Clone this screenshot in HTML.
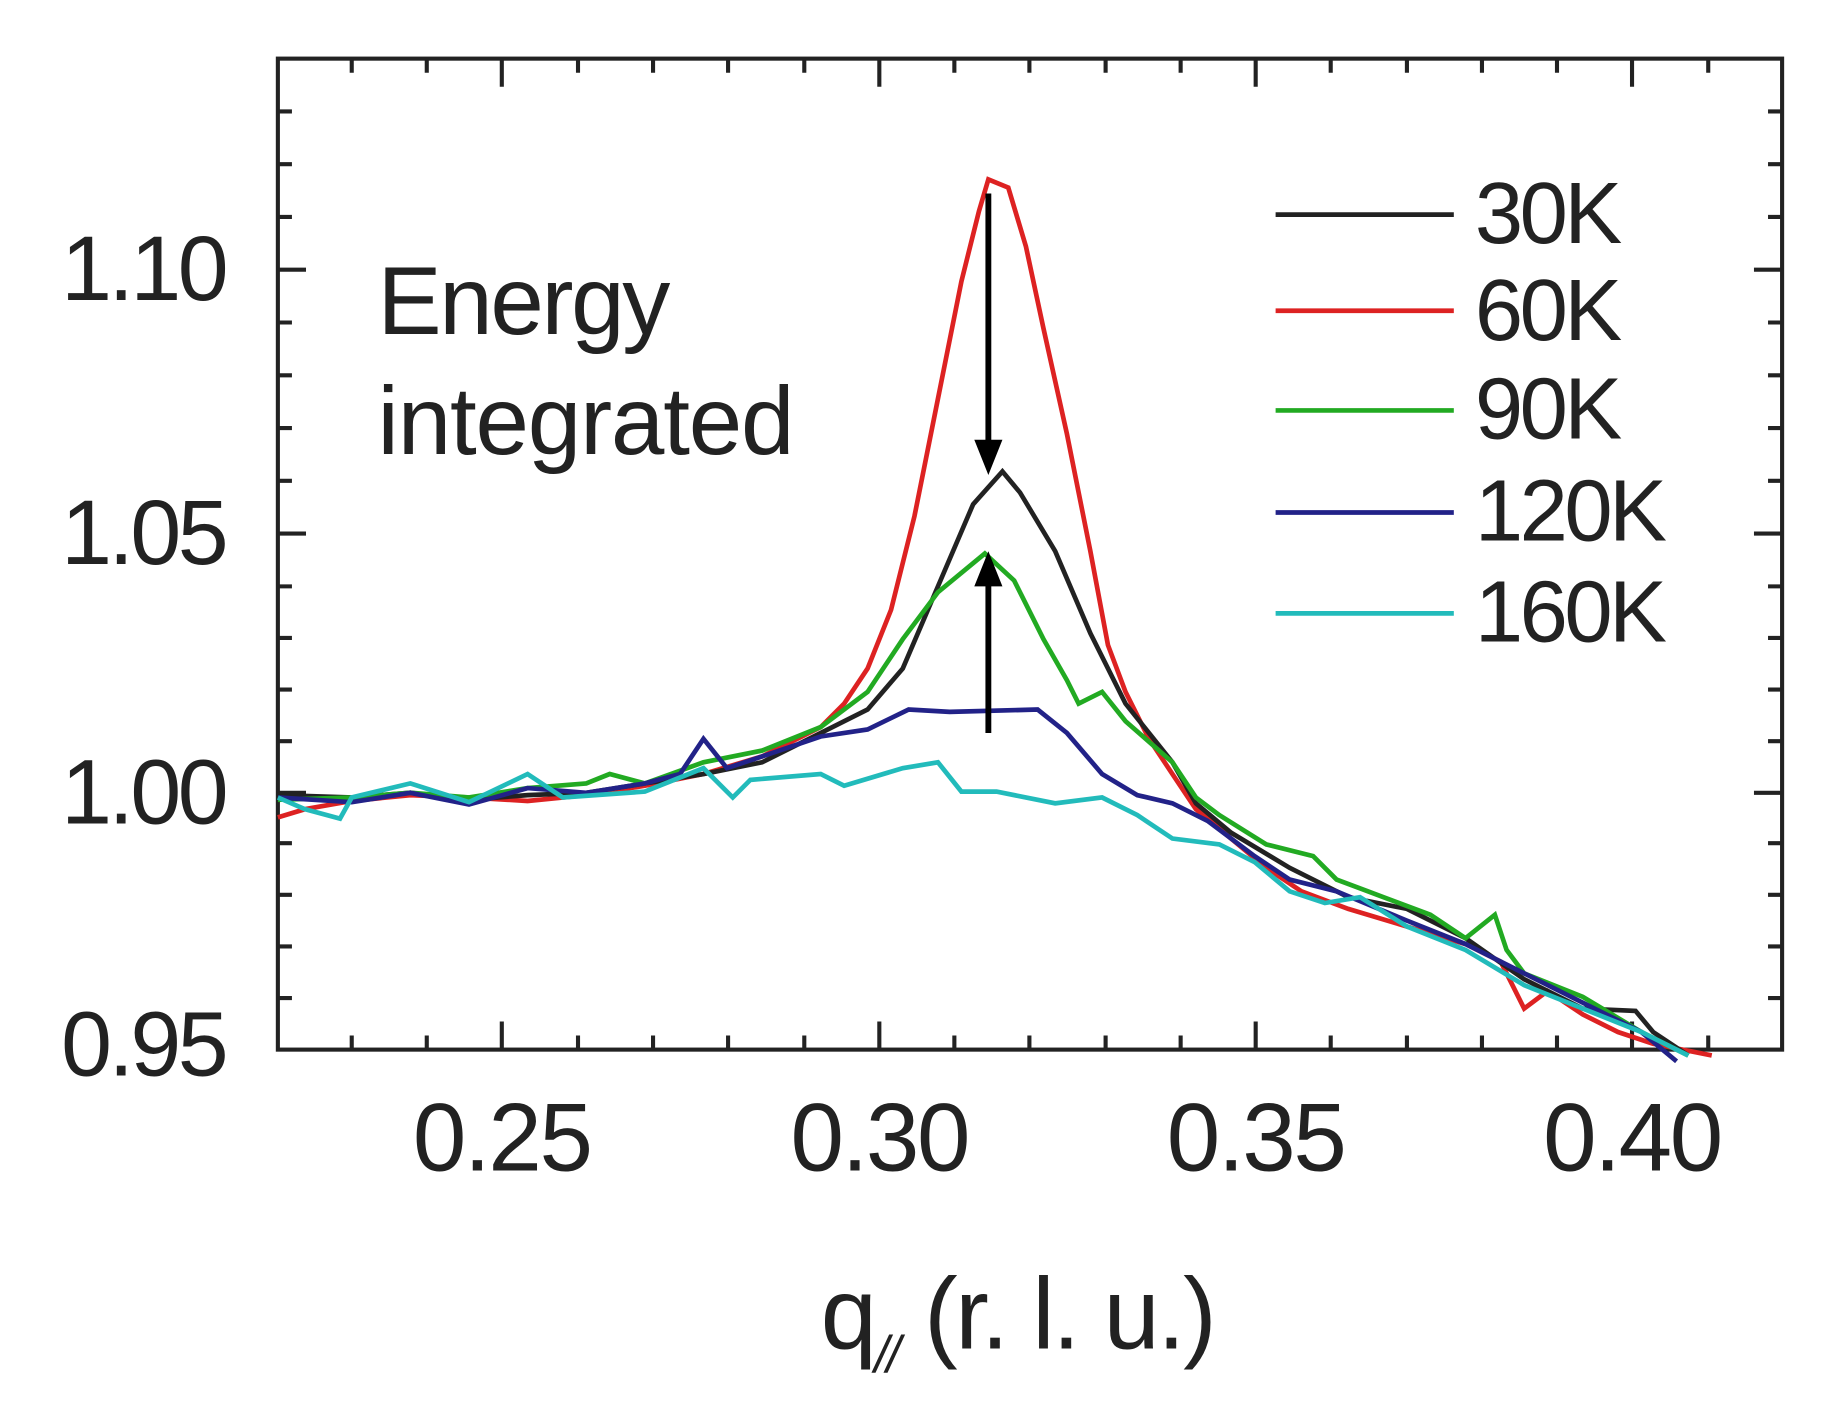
<!DOCTYPE html>
<html><head><style>html,body{margin:0;padding:0;background:#fff}svg{display:block}</style></head>
<body>
<svg width="1829" height="1412" viewBox="0 0 1560 1204" preserveAspectRatio="none" xmlns="http://www.w3.org/2000/svg" font-family="Liberation Sans, sans-serif">
<rect x="237" y="50" width="1283" height="845" fill="none" stroke="#222" stroke-width="3.5"/>
<g stroke="#222" stroke-width="3.5">
<path d="M300,895v-12M364,895v-12M493,895v-12M557,895v-12M621,895v-12M686,895v-12M814,895v-12M878,895v-12M943,895v-12M1007,895v-12M1135,895v-12M1200,895v-12M1264,895v-12M1328,895v-12M1457,895v-12
M300,50v12M364,50v12M493,50v12M557,50v12M621,50v12M686,50v12M814,50v12M878,50v12M943,50v12M1007,50v12M1135,50v12M1200,50v12M1264,50v12M1328,50v12M1457,50v12"/>
<path d="M428,895v-24M750,895v-24M1071,895v-24M1392,895v-24M428,50v24M750,50v24M1071,50v24M1392,50v24"/>
<path d="M237,851h12M237,807h12M237,763h12M237,719h12M237,632h12M237,588h12M237,544h12M237,500h12M237,410h12M237,365h12M237,320h12M237,275h12M237,185h12M237,140h12M237,95h12
M1520,851h-12M1520,807h-12M1520,763h-12M1520,719h-12M1520,632h-12M1520,588h-12M1520,544h-12M1520,500h-12M1520,410h-12M1520,365h-12M1520,320h-12M1520,275h-12M1520,185h-12M1520,140h-12M1520,95h-12"/>
<path d="M237,676h24M237,455h24M237,230h24M1520,676h-24M1520,455h-24M1520,230h-24"/>
</g>
<g font-size="78" fill="#222" text-anchor="end" letter-spacing="-3">
<text x="192" y="256">1.10</text><text x="192" y="481">1.05</text><text x="192" y="702">1.00</text><text x="192" y="917">0.95</text>
</g>
<g font-size="82" fill="#222" text-anchor="middle" letter-spacing="-2">
<text x="428" y="998">0.25</text><text x="750" y="998">0.30</text><text x="1071" y="998">0.35</text><text x="1392" y="998">0.40</text>
</g>
<text x="700" y="1150" font-size="86" fill="#222" letter-spacing="-2">q<tspan font-size="44" dy="20" font-style="italic">//</tspan><tspan dy="-20"> (r. l. u.)</tspan></text>
<g font-size="82" fill="#222" letter-spacing="-2"><text x="322" y="285">Energy</text><text x="322" y="387" letter-spacing="-1">integrated</text></g>
<g stroke-width="4" fill="none">
<path stroke="#d22" d="M237,697 260,690 300,683 350,678 400,680 450,683 500,678 550,670 600,660 650,645 700,620 720,600 740,570 760,520 780,440 800,340 820,240 835,180 843,153 860,160 875,210 890,280 910,370 930,470 945,550 960,590 980,630 1000,660 1020,690 1050,715 1080,740 1110,760 1150,775 1200,790 1250,805 1280,820 1300,860 1320,845 1350,865 1380,880 1410,890 1460,900"/>
<path stroke="#222" d="M237,678 300,680 350,676 400,682 450,678 500,676 550,668 600,660 650,650 700,625 740,605 770,570 800,500 830,430 855,402 870,420 900,470 930,540 960,600 1000,650 1020,685 1050,710 1100,740 1150,765 1200,775 1250,800 1300,835 1350,860 1395,862 1410,880 1440,900"/>
<path stroke="#2a2" d="M237,682 300,680 350,676 400,680 450,672 500,668 520,660 550,668 600,650 650,640 700,620 740,590 770,545 800,505 840,472 865,495 890,545 910,580 920,600 940,590 960,615 1000,650 1020,680 1040,695 1080,720 1120,730 1140,750 1180,765 1220,780 1250,800 1275,780 1285,810 1300,830 1350,850 1400,880 1440,900"/>
<path stroke="#228" d="M237,680 300,684 350,676 400,686 450,672 500,676 550,668 580,660 600,630 620,655 650,645 700,628 740,622 775,605 810,607 885,605 910,625 940,660 970,678 1000,685 1030,700 1070,730 1100,750 1140,760 1200,785 1250,805 1300,830 1350,855 1400,880 1430,905"/>
<path stroke="#2bb" d="M237,680 260,690 290,698 300,680 350,668 400,684 450,660 480,680 550,675 600,655 625,680 640,665 700,660 720,670 770,655 800,650 820,675 850,675 900,685 940,680 970,695 1000,715 1040,720 1070,735 1100,760 1130,770 1160,765 1200,790 1250,810 1300,840 1350,860 1400,880 1440,900"/>
<path stroke="#222" d="M1088,183h152"/><path stroke="#d22" d="M1088,265h152"/><path stroke="#2a2" d="M1088,350h152"/><path stroke="#228" d="M1088,437h152"/><path stroke="#2bb" d="M1088,523h152"/>
</g>
<g stroke="#000" stroke-width="5"><path d="M843,165V380M843,625V495"/></g>
<path d="M831,375h24l-12,30z M831,500h24l-12,-30z" fill="#000"/>
<g font-size="74" fill="#222" letter-spacing="-3"><text x="1258" y="207">30K</text><text x="1258" y="290">60K</text><text x="1258" y="374">90K</text><text x="1258" y="461">120K</text><text x="1258" y="547">160K</text></g>
</svg>
</body></html>
